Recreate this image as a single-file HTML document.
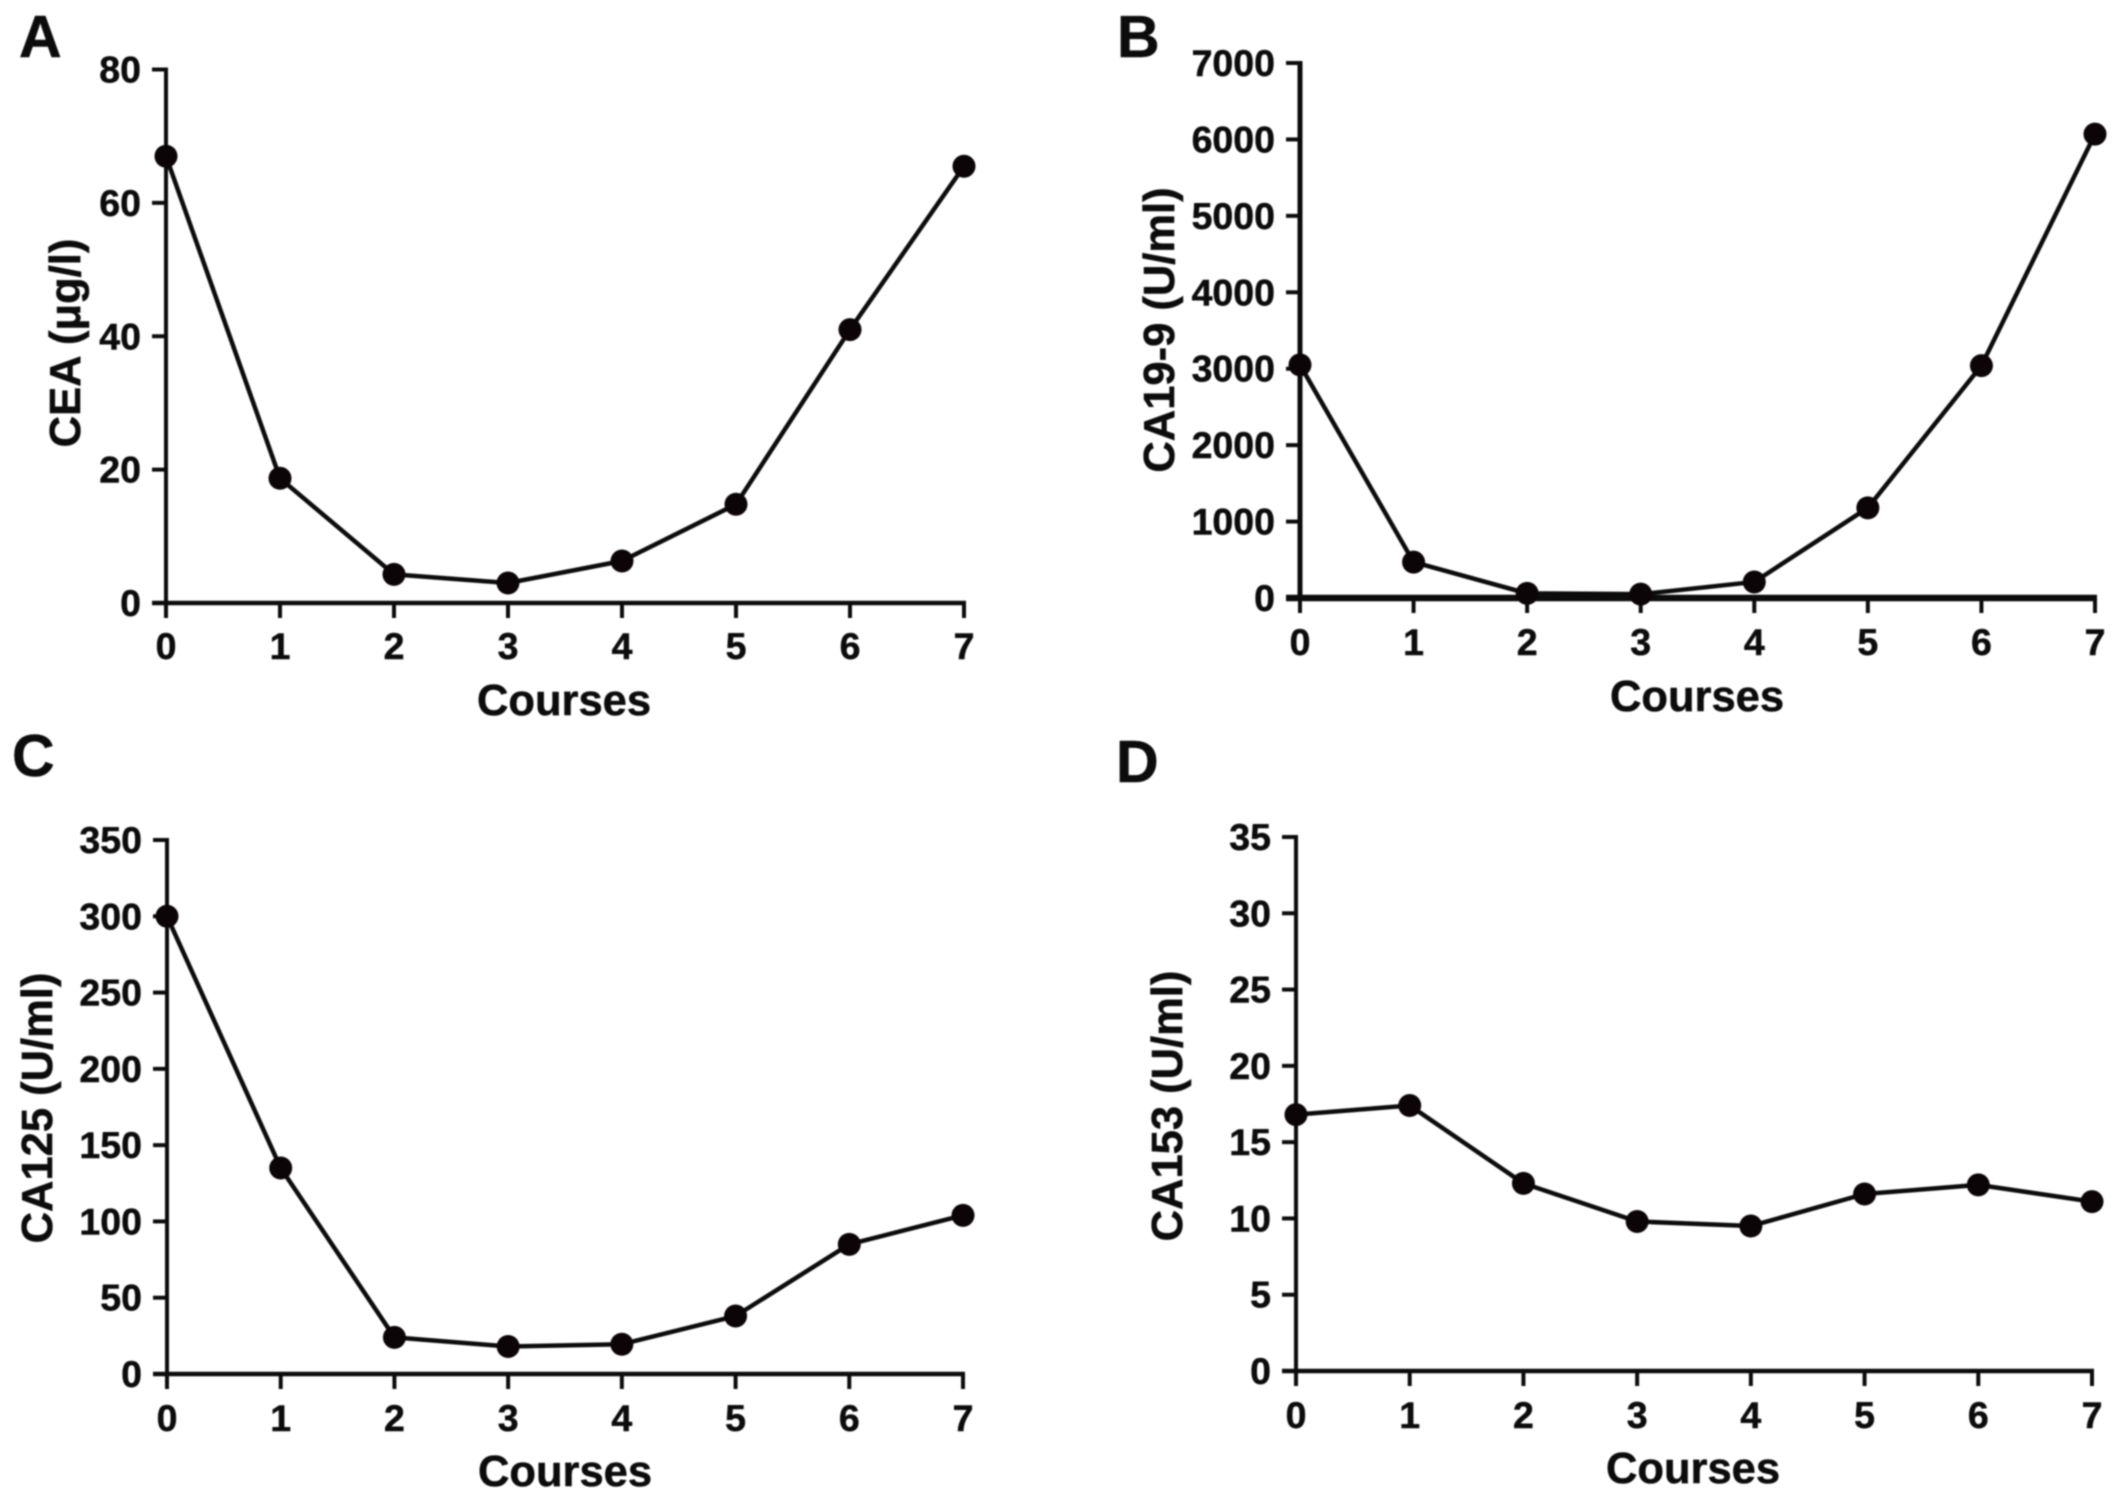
<!DOCTYPE html>
<html lang="en">
<head>
<meta charset="utf-8">
<title>Tumor markers over treatment courses</title>
<style>
  html, body { margin: 0; padding: 0; background: #fff; }
  body { width: 2126px; height: 1504px; overflow: hidden; }
  svg { display: block; filter: blur(0.7px); }
  text { font-family: "Liberation Sans", Arial, sans-serif; font-weight: bold; fill: #0c0c0c; stroke: #0c0c0c; stroke-width: 0.5px; }
</style>
</head>
<body>
<svg id="figure" xmlns="http://www.w3.org/2000/svg" width="2126" height="1504" viewBox="0 0 2126 1504">
  <rect width="2126" height="1504" fill="#ffffff"/>
</svg>
<script>
const courses = [0, 1, 2, 3, 4, 5, 6, 7];

const ceaValues = [67, 18.7, 4.3, 3, 6.3, 14.8, 41, 65.5];
const ceaTicks = [0, 20, 40, 60, 80];

const ca199Values = [3050, 470, 60, 50, 210, 1180, 3040, 6070];
const ca199Ticks = [0, 1000, 2000, 3000, 4000, 5000, 6000, 7000];

const ca125Values = [300, 135, 24, 18, 19.5, 38, 85, 104];
const ca125Ticks = [0, 50, 100, 150, 200, 250, 300, 350];

const ca153Values = [16.8, 17.4, 12.3, 9.8, 9.5, 11.6, 12.2, 11.1];
const ca153Ticks = [0, 5, 10, 15, 20, 25, 30, 35];

const svg = document.getElementById('figure');
const NS = 'http://www.w3.org/2000/svg';

function make(parent, tag, attrs, content) {
  const el = document.createElementNS(NS, tag);
  for (const k in attrs) el.setAttribute(k, attrs[k]);
  if (content !== undefined) el.textContent = content;
  parent.appendChild(el);
  return el;
}

function drawPanel(p) {
  const xMax = courses[courses.length - 1];
  const yMax = p.ticks[p.ticks.length - 1];
  const xScale = v => p.x0 + (v / xMax) * (p.x1 - p.x0);
  const yScale = v => p.yBottom - (v / yMax) * (p.yBottom - p.yTop);

  const group = make(svg, 'g', {});
  
  

  const letter = make(group, 'text', { x: p.letterX, y: p.letterY, 'font-size': 59 }, p.letter);
  
  

  const yAxis = make(group, 'line', {
    x1: p.x0, x2: p.x0, y1: p.yTop - 2, y2: p.yBottom + 2,
    stroke: '#0c0c0c', 'stroke-width': p.yAxisWidth
  });
  
  

  const xAxis = make(group, 'line', {
    x1: p.x0 - 14, x2: xScale(xMax) + 2, y1: p.yBottom, y2: p.yBottom,
    stroke: '#0c0c0c', 'stroke-width': p.xAxisWidth
  });
  
  

  p.ticks.forEach(t => {
    const y = yScale(t);
    const tick = make(group, 'line', {
      x1: p.x0 - 14, x2: p.x0, y1: y, y2: y,
      stroke: '#0c0c0c', 'stroke-width': 4
    });
    
    

    const label = make(group, 'text', {
      x: p.x0 - 25, y: y + 13, 'font-size': 37.5, 'text-anchor': 'end'
    }, String(t));
    
    
  });

  courses.forEach(c => {
    const x = xScale(c);
    const tick = make(group, 'line', {
      x1: x, x2: x, y1: p.yBottom, y2: p.yBottom + 15,
      stroke: '#0c0c0c', 'stroke-width': 4
    });
    
    

    const label = make(group, 'text', {
      x: x, y: p.tickBaseline, 'font-size': 37.5, 'text-anchor': 'middle'
    }, String(c));
    
    
  });

  const xTitle = make(group, 'text', {
    x: p.xTitleX, y: p.xTitleBaseline, 'font-size': 43.5, 'text-anchor': 'middle'
  }, 'Courses');
  
  

  const yTitle = make(group, 'text', {
    transform: 'translate(' + p.yTitleX + ',' + p.yTitleY + ') rotate(-90)',
    'font-size': 43.5, 'text-anchor': 'middle'
  }, p.yTitle);
  
  

  const points = courses.map((c, i) => xScale(c) + ',' + yScale(p.values[i])).join(' ');
  const line = make(group, 'polyline', {
    points: points, fill: 'none', stroke: '#0c0c0c', 'stroke-width': 4.5, 'stroke-linejoin': 'round'
  });
  
  

  courses.forEach((c, i) => {
    const dot = make(group, 'circle', {
      cx: xScale(c), cy: yScale(p.values[i]), r: 11.5, fill: '#0b0507'
    });
    
    
  });
}

drawPanel({
  key: 'cea', letter: 'A', letterX: 19, letterY: 57,
  values: ceaValues, ticks: ceaTicks, yTitle: 'CEA (μg/l)',
  x0: 166, x1: 964, yTop: 69.5, yBottom: 603,
  yAxisWidth: 4, xAxisWidth: 4.5,
  tickBaseline: 659, xTitleX: 564, xTitleBaseline: 715, yTitleX: 80, yTitleY: 343
});

drawPanel({
  key: 'ca199', letter: 'B', letterX: 1117, letterY: 57,
  values: ca199Values, ticks: ca199Ticks, yTitle: 'CA19-9 (U/ml)',
  x0: 1300, x1: 2095, yTop: 63, yBottom: 598,
  yAxisWidth: 5, xAxisWidth: 6.5,
  tickBaseline: 655, xTitleX: 1697, xTitleBaseline: 711, yTitleX: 1174, yTitleY: 330
});

drawPanel({
  key: 'ca125', letter: 'C', letterX: 12, letterY: 776,
  values: ca125Values, ticks: ca125Ticks, yTitle: 'CA125 (U/ml)',
  x0: 167, x1: 963, yTop: 840, yBottom: 1374,
  yAxisWidth: 4, xAxisWidth: 4.5,
  tickBaseline: 1431, xTitleX: 565, xTitleBaseline: 1486, yTitleX: 52, yTitleY: 1108
});

drawPanel({
  key: 'ca153', letter: 'D', letterX: 1116, letterY: 782,
  values: ca153Values, ticks: ca153Ticks, yTitle: 'CA153 (U/ml)',
  x0: 1296, x1: 2092, yTop: 837, yBottom: 1371,
  yAxisWidth: 4, xAxisWidth: 4.5,
  tickBaseline: 1428, xTitleX: 1693, xTitleBaseline: 1483, yTitleX: 1182, yTitleY: 1106
});
</script>
</body>
</html>
